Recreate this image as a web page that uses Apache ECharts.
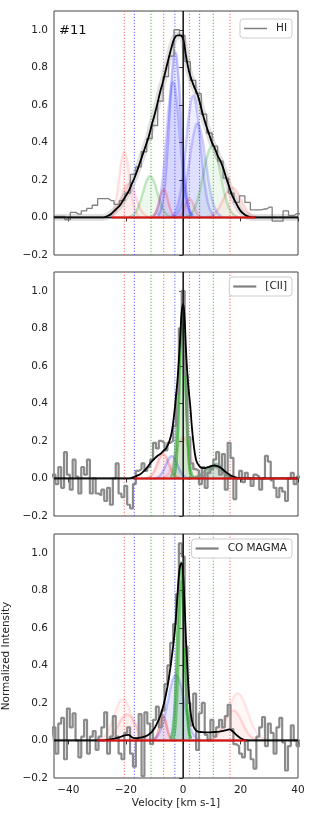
<!DOCTYPE html>
<html><head><meta charset="utf-8">
<script src="https://cdn.jsdelivr.net/npm/echarts@6/dist/echarts.min.js"></script>
<style>html,body{margin:0;padding:0;background:#fff}#c{width:314px;height:816px}</style>
</head><body><div id="c"></div>
<script>
// ---- axes / labels ----
const xTicks = [-40, -20, 0, 20, 40];
const yTicks = [-0.2, 0, 0.2, 0.4, 0.6, 0.8, 1.0];
const panelNames = ['HI', '[CII]', 'CO MAGMA'];
const dottedRed = [-20.5, -6.8, 2.2, 16.3];
const dottedBlue = [-17, -2.9, 5.7];
const dottedGreen = [-11.2, 10.5];

// ---- HI spectrum (channel centres start, width) ----
const hiStart = -45.95, hiStep = 1.9;
const hiValues = [0.005,0.005,0.005,-0.012,0.027,0.018,0.035,0.048,0.065,0.10,0.10,0.09,0.07,0.09,0.13,0.23,0.27,0.35,0.42,0.49,0.62,0.75,0.86,1.00,0.97,0.83,0.73,0.66,0.55,0.45,0.38,0.30,0.21,0.13,0.08,0.115,0.08,0.04,0.04,0.045,0.055,-0.02,-0.02,0.035,0.01,0.02,0.02];
// ---- [CII] spectrum ----
const ciiStart = -46, ciiStep = 1;
const ciiValues = [0.00,0.02,-0.03,0.06,-0.05,0.14,0.02,-0.06,0.10,0.01,-0.08,0.06,0.02,0.10,-0.08,0.00,-0.08,-0.09,-0.06,-0.12,-0.05,-0.14,0.00,0.08,-0.08,-0.10,-0.04,-0.14,-0.16,-0.03,0.04,0.05,0.08,0.04,0.06,0.10,0.19,0.16,0.20,0.19,0.15,0.19,0.20,0.28,0.45,0.80,1.00,0.55,0.22,0.08,0.05,0.04,-0.03,0.06,-0.05,0.03,0.05,0.10,0.14,0.02,0.13,-0.06,0.19,0.11,-0.11,0.00,0.04,-0.02,0.03,0.00,-0.04,0.02,0.01,-0.06,0.00,0.12,0.09,-0.01,-0.05,-0.10,-0.05,-0.07,-0.12,0.00,0.03,-0.03,0.01,0.00];
// ---- CO MAGMA spectrum ----
const coStart = -46, coStep = 1;
const coValues = [0.00,0.07,-0.07,0.09,0.12,-0.10,0.17,0.07,0.145,0.00,-0.09,0.02,0.11,-0.07,0.02,0.05,-0.05,0.02,0.07,0.15,-0.07,0.02,0.13,0.02,-0.07,-0.10,0.04,0.07,-0.07,-0.14,0.00,0.14,-0.19,0.15,0.09,-0.02,0.11,0.18,0.07,0.16,0.30,0.40,0.52,0.62,0.78,1.05,0.98,0.50,0.20,0.08,0.25,-0.05,0.145,0.20,0.03,0.00,0.11,0.02,0.07,0.11,0.07,0.13,0.19,0.06,-0.02,-0.03,-0.07,-0.09,0.00,-0.05,-0.10,-0.15,0.02,0.07,0.125,-0.03,0.09,0.04,-0.07,0.07,0.12,-0.01,-0.16,-0.03,0.08,0.00,-0.03,0.00];

// ---- fitted totals ----
const hiFitStart = -45, hiFitStep = 1;
const hiFit = [0,0,0,0,0,0,0,0,0,0,0,0,0,0,0,0,0,0,0.003,0.01,0.02,0.035,0.05,0.065,0.09,0.115,0.14,0.175,0.21,0.25,0.295,0.34,0.385,0.43,0.49,0.545,0.605,0.67,0.725,0.79,0.85,0.91,0.955,0.97,0.97,0.95,0.86,0.78,0.73,0.69,0.655,0.6,0.54,0.49,0.445,0.40,0.37,0.33,0.30,0.26,0.21,0.165,0.12,0.09,0.06,0.035,0.02,0.01,0.004,0,0,0,0,0,0,0,0,0,0,0,0,0,0,0,0,0];
const ciiFitV = [-45,-19,-18,-17,-16,-15,-14,-13,-12,-11,-10,-9,-8,-7,-6,-5,-4,-3,-2.5,-2,-1.5,-1,-0.5,0,0.5,1,1.5,2,2.5,3,3.5,4,4.5,5,6,7,8,9,10,11,12,13,14,15,16,17,18,19,20,21,40];
const ciiFitY = [0,0,0.003,0.008,0.015,0.022,0.035,0.05,0.07,0.09,0.105,0.12,0.13,0.145,0.16,0.19,0.245,0.36,0.44,0.52,0.63,0.76,0.89,0.93,0.85,0.68,0.55,0.46,0.38,0.28,0.20,0.14,0.10,0.08,0.06,0.055,0.057,0.062,0.067,0.069,0.066,0.058,0.045,0.033,0.022,0.013,0.007,0.003,0.001,0,0];
const coFitV = [-45,-28,-27,-26,-25,-24,-23,-22,-21,-20,-19,-18,-17,-16,-15,-14,-13,-12,-11,-10,-9,-8,-7,-6,-5,-4,-3,-2.5,-2,-1.5,-1,-0.5,0,0.5,1,1.5,2,2.5,3,3.5,4,5,6,7,8,9,10,11,12,13,14,15,16,17,18,19,20,21,22,23,40];
const coFitY = [0,0,0.002,0.004,0.007,0.01,0.014,0.018,0.024,0.029,0.03,0.018,0.012,0.013,0.015,0.018,0.023,0.032,0.045,0.065,0.095,0.13,0.18,0.245,0.33,0.44,0.57,0.66,0.77,0.88,0.935,0.945,0.88,0.72,0.53,0.38,0.25,0.16,0.11,0.08,0.062,0.048,0.045,0.044,0.043,0.043,0.044,0.045,0.046,0.048,0.051,0.055,0.059,0.052,0.038,0.024,0.012,0.005,0.001,0,0];

// ---- Gaussian components ([v, y]) ----
const hiBlue1 = [[-8.8,0.01],[-7.8,0.039],[-6.8,0.119],[-5.8,0.286],[-4.8,0.534],[-3.8,0.776],[-2.8,0.88],[-1.8,0.776],[-0.8,0.534],[0.2,0.286],[1.2,0.119],[2.2,0.039],[3.2,0.01]];
const hiBlue2 = [[-10.4,0.008],[-9.25,0.032],[-8.1,0.097],[-6.95,0.234],[-5.8,0.437],[-4.65,0.635],[-3.5,0.72],[-2.35,0.635],[-1.2,0.437],[-0.05,0.234],[1.1,0.097],[2.25,0.032],[3.4,0.008]];
const hiBlue3 = [[-4,0.007],[-2.75,0.029],[-1.5,0.088],[-0.25,0.211],[1,0.395],[2.25,0.573],[3.5,0.65],[4.75,0.573],[6,0.395],[7.25,0.211],[8.5,0.088],[9.75,0.029],[11,0.007]];
const hiBlue4 = [[-3.4,0.006],[-2,0.022],[-0.6,0.068],[0.8,0.163],[2.2,0.304],[3.6,0.441],[5,0.5],[6.4,0.441],[7.8,0.304],[9.2,0.163],[10.6,0.068],[12,0.022],[13.4,0.006]];
const hiGreen1 = [[-19,0.002],[-17.75,0.01],[-16.5,0.03],[-15.25,0.072],[-14,0.134],[-12.75,0.194],[-11.5,0.22],[-10.25,0.194],[-9,0.134],[-7.75,0.072],[-6.5,0.03],[-5.25,0.01],[-4,0.002]];
const hiGreen2 = [[1,0.004],[2.5,0.017],[4,0.051],[5.5,0.124],[7,0.231],[8.5,0.335],[10,0.38],[11.5,0.335],[13,0.231],[14.5,0.124],[16,0.051],[17.5,0.017],[19,0.004]];
const hiRed1 = [[-25.9,0.004],[-25,0.015],[-24.1,0.047],[-23.2,0.114],[-22.3,0.212],[-21.4,0.309],[-20.5,0.35],[-19.6,0.309],[-18.7,0.212],[-17.8,0.114],[-16.9,0.047],[-16,0.015],[-15.1,0.004]];
const hiRed2 = [[-26.5,0.002],[-25.25,0.008],[-24,0.024],[-22.75,0.059],[-21.5,0.109],[-20.25,0.159],[-19,0.18],[-17.75,0.159],[-16.5,0.109],[-15.25,0.059],[-14,0.024],[-12.75,0.008],[-11.5,0.002]];
const hiRed3 = [[-11.3,0.002],[-10.55,0.007],[-9.8,0.02],[-9.05,0.049],[-8.3,0.091],[-7.55,0.132],[-6.8,0.15],[-6.05,0.132],[-5.3,0.091],[-4.55,0.049],[-3.8,0.02],[-3.05,0.007],[-2.3,0.002]];
const hiRed4 = [[-2.3,0.001],[-1.55,0.004],[-0.8,0.014],[-0.05,0.033],[0.7,0.061],[1.45,0.088],[2.2,0.1],[2.95,0.088],[3.7,0.061],[4.45,0.033],[5.2,0.014],[5.95,0.004],[6.7,0.001]];
const hiRed5 = [[8,0.002],[9.5,0.007],[11,0.022],[12.5,0.052],[14,0.097],[15.5,0.141],[17,0.16],[18.5,0.141],[20,0.097],[21.5,0.052],[23,0.022],[24.5,0.007],[26,0.002]];

const ciiGreen1 = [[-3.2,0.01],[-2.7,0.04],[-2.2,0.122],[-1.7,0.293],[-1.2,0.546],[-0.7,0.794],[-0.2,0.9],[0.3,0.794],[0.8,0.546],[1.3,0.293],[1.8,0.122],[2.3,0.04],[2.8,0.01]];
const ciiGreen2 = [[-4.3,0.009],[-3.65,0.035],[-3,0.108],[-2.35,0.26],[-1.7,0.486],[-1.05,0.706],[-0.4,0.8],[0.25,0.706],[0.9,0.486],[1.55,0.26],[2.2,0.108],[2.85,0.035],[3.5,0.009]];
const ciiPink = [[-7.5,0.002],[-6.25,0.01],[-5,0.03],[-3.75,0.072],[-2.5,0.134],[-1.25,0.194],[0,0.22],[1.25,0.194],[2.5,0.134],[3.75,0.072],[5,0.03],[6.25,0.01],[7.5,0.002]];
const ciiBlue = [[-10,0.001],[-9,0.005],[-8,0.016],[-7,0.039],[-6,0.073],[-5,0.106],[-4,0.12],[-3,0.106],[-2,0.073],[-1,0.039],[0,0.016],[1,0.005],[2,0.001]];
const ciiRed = [[-13,0.001],[-12,0.006],[-11,0.018],[-10,0.042],[-9,0.079],[-8,0.115],[-7,0.13],[-6,0.115],[-5,0.079],[-4,0.042],[-3,0.018],[-2,0.006],[-1,0.001]];
const ciiDarkGreen1 = [[1.5,0.001],[3,0.003],[4.5,0.009],[6,0.021],[7.5,0.039],[9,0.057],[10.5,0.065],[12,0.057],[13.5,0.039],[15,0.021],[16.5,0.009],[18,0.003],[19.5,0.001]];
const ciiDarkGreen2 = [[4.9,0.001],[6,0.004],[7.1,0.011],[8.2,0.026],[9.3,0.049],[10.4,0.071],[11.5,0.08],[12.6,0.071],[13.7,0.049],[14.8,0.026],[15.9,0.011],[17,0.004],[18.1,0.001]];

const coGreen1 = [[-4.4,0.01],[-3.8,0.042],[-3.2,0.128],[-2.6,0.309],[-2,0.577],[-1.4,0.838],[-0.8,0.95],[-0.2,0.838],[0.4,0.577],[1,0.309],[1.6,0.128],[2.2,0.042],[2.8,0.01]];
const coGreen2 = [[-3.5,0.009],[-3,0.037],[-2.5,0.115],[-2,0.276],[-1.5,0.516],[-1,0.75],[-0.5,0.85],[0,0.75],[0.5,0.516],[1,0.276],[1.5,0.115],[2,0.037],[2.5,0.009]];
const coBlue = [[-10.9,0.004],[-9.5,0.015],[-8.1,0.047],[-6.7,0.114],[-5.3,0.212],[-3.9,0.309],[-2.5,0.35],[-1.1,0.309],[0.3,0.212],[1.7,0.114],[3.1,0.047],[4.5,0.015],[5.9,0.004]];
const coRed1 = [[-10.6,0.001],[-10,0.006],[-9.4,0.018],[-8.8,0.042],[-8.2,0.079],[-7.6,0.115],[-7,0.13],[-6.4,0.115],[-5.8,0.079],[-5.2,0.042],[-4.6,0.018],[-4,0.006],[-3.4,0.001]];
const coRed2 = [[-28.5,0.002],[-27,0.006],[-25.5,0.019],[-24,0.045],[-22.5,0.085],[-21,0.123],[-19.5,0.14],[-18,0.123],[-16.5,0.085],[-15,0.045],[-13.5,0.019],[-12,0.006],[-10.5,0.002]];
const coRed3 = [[-30,0.002],[-28.5,0.01],[-27,0.03],[-25.5,0.072],[-24,0.134],[-22.5,0.194],[-21,0.22],[-19.5,0.194],[-18,0.134],[-16.5,0.072],[-15,0.03],[-13.5,0.01],[-12,0.002]];
const coRed4 = [[8.5,0.002],[10,0.007],[11.5,0.022],[13,0.052],[14.5,0.097],[16,0.141],[17.5,0.16],[19,0.141],[20.5,0.097],[22,0.052],[23.5,0.022],[25,0.007],[26.5,0.002]];
const coRed5 = [[8.5,0.003],[10.25,0.011],[12,0.034],[13.75,0.081],[15.5,0.152],[17.25,0.221],[19,0.25],[20.75,0.221],[22.5,0.152],[24.25,0.081],[26,0.034],[27.75,0.011],[29.5,0.003]];

// baseline (red) extents
const redBase = [[-25, 25], [-17, 40], [-30, 22]];

// ---------------------------------------------------------------
const RED = '#ff2020', BLUE = '#2020ff', GREEN = '#20a020', DGREEN = '#1f6f2f';
const FONT = 'DejaVu Sans';
const tops = [11, 272, 534];
const minus = v => String(v).replace('-', '\u2212');

const grids = [], xAxes = [], yAxes = [], series = [], legends = [];
const stepPairs = (start, step, vals) => vals.map((y, i) => [start + i * step, y]);
const zip = (a, b) => a.map((v, i) => [v, b[i]]);

const specs = [
  {data: stepPairs(hiStart, hiStep, hiValues), fit: stepPairs(hiFitStart, hiFitStep, hiFit), w: 1.3,
   comps: [[hiRed1,RED,0.12,0.03],[hiRed2,RED,0.15,0.04],[hiRed3,RED,0.25,0.05],[hiRed4,RED,0.2,0.04],[hiRed5,RED,0.18,0.05],
           [hiGreen1,GREEN,0.25,0.07],[hiGreen2,GREEN,0.25,0.07],
           [hiBlue2,BLUE,0.22,0.09],[hiBlue1,BLUE,0.28,0.1],[hiBlue4,BLUE,0.2,0.07],[hiBlue3,BLUE,0.22,0.08]]},
  {data: stepPairs(ciiStart, ciiStep, ciiValues), fit: zip(ciiFitV, ciiFitY), w: 2.2,
   comps: [[ciiPink,RED,0.15,0.05],[ciiRed,RED,0.25,0.07],[ciiBlue,BLUE,0.25,0.08],
           [ciiDarkGreen1,DGREEN,0.5,0.12],[ciiDarkGreen2,DGREEN,0.4,0.1],
           [ciiGreen2,GREEN,0.5,0.1],[ciiGreen1,GREEN,0.6,0.1]]},
  {data: stepPairs(coStart, coStep, coValues), fit: zip(coFitV, coFitY), w: 2.2,
   comps: [[coRed3,RED,0.1,0.03],[coRed2,RED,0.15,0.04],[coRed5,RED,0.1,0.03],[coRed4,RED,0.15,0.04],[coRed1,RED,0.35,0.07],
           [coBlue,BLUE,0.22,0.1],[coGreen2,GREEN,0.5,0.1],[coGreen1,GREEN,0.6,0.1]]}
];

const vline = (i, v, color) => ({type: 'line', xAxisIndex: i, yAxisIndex: i, data: [[v, -0.2], [v, 1.1]], symbol: 'none', z: 1, silent: true,
  lineStyle: {color: color, width: 1.2, type: [1.2, 1.8], opacity: 0.75}});

specs.forEach((sp, i) => {
  grids.push({left: 54, width: 244, top: tops[i], height: 244, show: true, borderColor: '#444', borderWidth: 1,
    backgroundColor: 'transparent', containLabel: false, outerBoundsMode: 'none'});
  xAxes.push({
    gridIndex: i, type: 'value', min: -45, max: 40,
    axisLine: {show: false}, splitLine: {show: false},
    axisTick: {show: true, customValues: xTicks, length: 4, lineStyle: {color: '#333'}},
    axisLabel: {show: i === 2, customValues: xTicks, formatter: v => minus(v), fontSize: 10.5, color: '#222', margin: 7, fontFamily: FONT},
    name: i === 2 ? 'Velocity [km s-1]' : '', nameLocation: 'middle', nameGap: 20,
    nameTextStyle: {fontSize: 10.5, color: '#222', fontFamily: FONT}
  });
  yAxes.push({
    gridIndex: i, type: 'value', min: -0.2, max: 1.1,
    axisLine: {show: false}, splitLine: {show: false},
    axisTick: {show: true, customValues: yTicks, length: 4, lineStyle: {color: '#333'}},
    axisLabel: {customValues: yTicks, formatter: v => minus(Number(v).toFixed(1)), fontSize: 10.5, color: '#222', margin: 6, fontFamily: FONT},
    name: i === 2 ? 'Normalized Intensity' : '', nameLocation: 'middle', nameGap: 33,
    nameTextStyle: {fontSize: 10.5, color: '#222', fontFamily: FONT}
  });
  // dotted component-centre lines
  dottedRed.forEach(v => series.push(vline(i, v, '#ff5a5a')));
  dottedBlue.forEach(v => series.push(vline(i, v, '#5a5aff')));
  dottedGreen.forEach(v => series.push(vline(i, v, '#3cb43c')));
  // components
  sp.comps.forEach(c => {
    series.push({type: 'line', xAxisIndex: i, yAxisIndex: i, data: c[0], smooth: 0.5, symbol: 'none', z: 2, silent: true,
      lineStyle: {color: c[1], width: 2.5, opacity: c[2]}, areaStyle: {color: c[1], opacity: c[3]}});
  });
  // fit uncertainty band (HI)
  if (i === 0) {
    series.push({type: 'line', xAxisIndex: i, yAxisIndex: i, data: sp.fit, smooth: 0.4, symbol: 'none', z: 3, silent: true,
      lineStyle: {color: '#888', width: 7, opacity: 0.25}});
  }
  // spectrum
  series.push({name: panelNames[i], type: 'line', xAxisIndex: i, yAxisIndex: i, data: sp.data, step: 'middle', symbol: 'none', z: 4,
    lineStyle: {color: i === 0 ? '#808080' : '#8a8a8a', width: sp.w}, itemStyle: {color: '#808080'}});
  // fit
  series.push({type: 'line', xAxisIndex: i, yAxisIndex: i, data: sp.fit, smooth: 0.4, symbol: 'none', z: 5, silent: true,
    lineStyle: {color: '#000', width: 1.8}});
  // axhline / axvline
  series.push({type: 'line', xAxisIndex: i, yAxisIndex: i, data: [[0, -0.2], [0, 1.1]], symbol: 'none', z: 6, silent: true,
    lineStyle: {color: '#111', width: 1.5}});
  series.push({type: 'line', xAxisIndex: i, yAxisIndex: i, data: [[-45, 0], [40, 0]], symbol: 'none', z: 6, silent: true,
    lineStyle: {color: '#111', width: 1.5}});
  // red baseline
  series.push({type: 'line', xAxisIndex: i, yAxisIndex: i, data: [[redBase[i][0], 0], [redBase[i][1], 0]], symbol: 'none', z: 7, silent: true,
    lineStyle: {color: '#e01010', width: 2}});
  legends.push({
    data: [panelNames[i]], right: 22, top: [19, 277, 539][i], orient: 'vertical', icon: 'rect',
    backgroundColor: '#fff', borderColor: '#ccc', borderWidth: 1, borderRadius: 3, padding: [4, 5, 4, 4],
    itemWidth: 23, itemHeight: i === 0 ? 1.5 : 2.2, itemStyle: {color: '#808080'},
    textStyle: {fontSize: 10.5, color: '#222', fontFamily: FONT, padding: [0, 0, 0, 4]},
    selectedMode: false
  });
});

const chart = echarts.init(document.getElementById('c'), null, {renderer: 'canvas'});
chart.setOption({
  animation: false,
  textStyle: {fontFamily: FONT},
  grid: grids, xAxis: xAxes, yAxis: yAxes, series: series, legend: legends,
  graphic: [{type: 'text', left: 59, top: 24, style: {text: '#11', font: '13px "DejaVu Sans"', fill: '#111'}}]
});
</script></body></html>
